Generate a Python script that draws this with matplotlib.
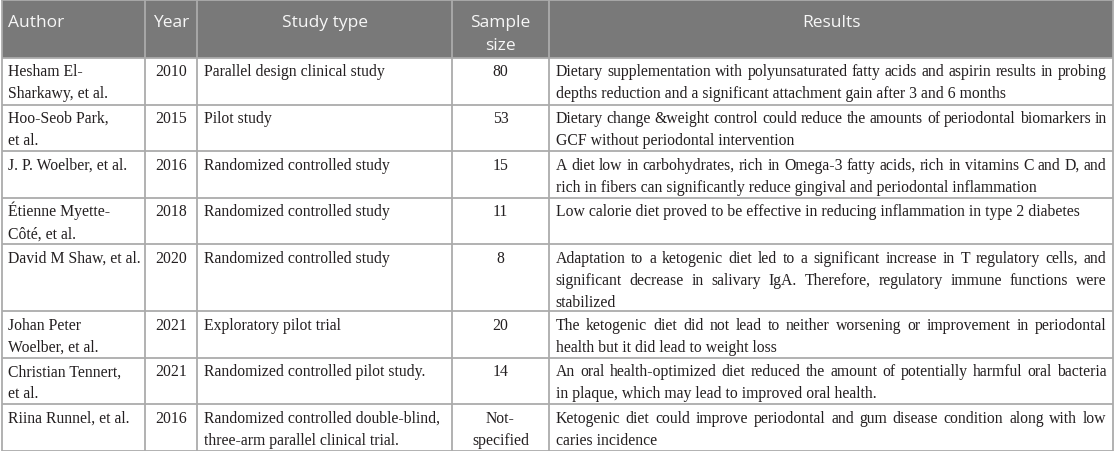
import matplotlib
matplotlib.use("Agg")
import matplotlib.pyplot as plt
from matplotlib.font_manager import FontProperties
from matplotlib.patches import Rectangle

# table content, one list per column (cell lines split as in the source)
headers = ["Author", "Year", "Study type", "Sample\nsize", "Results"]
authors = [
    "Hesham El-\nSharkawy, et al.",
    "Hoo-Seob Park,\net al.",
    "J. P. Woelber, et al.",
    "Étienne Myette-\nCôté, et al.",
    "David M Shaw, et al.",
    "Johan Peter\nWoelber, et al.",
    "Christian Tennert,\net al.",
    "Riina Runnel, et al.",
]
years = ["2010", "2015", "2016", "2018", "2020", "2021", "2021", "2016"]
study_types = [
    "Parallel design clinical study",
    "Pilot study",
    "Randomized controlled study",
    "Randomized controlled study",
    "Randomized controlled study",
    "Exploratory pilot trial",
    "Randomized controlled pilot study.",
    "Randomized controlled double-blind,\nthree-arm parallel clinical trial.",
]
sample_sizes = ["80", "53", "15", "11", "8", "20", "14", "Not-\nspecified"]
results = [
    "Dietary supplementation with polyunsaturated fatty acids and aspirin results in probing\n"
    "depths reduction and a significant attachment gain after 3 and 6 months",
    "Dietary change &weight control could reduce the amounts of periodontal biomarkers in\n"
    "GCF without periodontal intervention",
    "A diet low in carbohydrates, rich in Omega-3 fatty acids, rich in vitamins C and D, and\n"
    "rich in fibers can significantly reduce gingival and periodontal inflammation",
    "Low calorie diet proved to be effective in reducing inflammation in type 2 diabetes",
    "Adaptation to a ketogenic diet led to a significant increase in T regulatory cells, and\n"
    "significant decrease in salivary IgA. Therefore, regulatory immune functions were\n"
    "stabilized",
    "The ketogenic diet did not lead to neither worsening or improvement in periodontal\n"
    "health but it did lead to weight loss",
    "An oral health-optimized diet reduced the amount of potentially harmful oral bacteria\n"
    "in plaque, which may lead to improved oral health.",
    "Ketogenic diet could improve periodontal and gum disease condition along with low\n"
    "caries incidence",
]

W, H = 1116, 452
col_edges = [1.5, 145, 197, 452, 549, 1113]
header_align = ["left", "center", "center", "center", "center"]
body_align = ["left", "center", "left", "center", "justify"]
line_gap = 22          # distance between text lines
header_h = 59
pad = 6.5

header_font = FontProperties(family="Open Sans", size=12.5)
body_font = FontProperties(family="Liberation Serif", size=11.3)
grid_color = "#ababab"

fig = plt.figure(figsize=(W / 100, H / 100), dpi=100)
ax = fig.add_axes([0, 0, 1, 1])
ax.set_xlim(0, W)
ax.set_ylim(H, 0)
ax.axis("off")
renderer = fig.canvas.get_renderer()


def text_width(s, prop):
    w, _, _ = renderer.get_text_width_height_descent(s, prop, ismath=False)
    return w


def put_lines(lines, x0, x1, top, align, prop, color, baseline_off, gap_y):
    for i, line in enumerate(lines):
        y = top + baseline_off + i * gap_y
        if align == "justify" and i < len(lines) - 1 and " " in line:
            words = line.split(" ")
            widths = [text_width(w, prop) for w in words]
            gap = (x1 - x0 - sum(widths)) / (len(words) - 1)
            x = x0
            for w, ww in zip(words, widths):
                ax.text(x, y, w, fontproperties=prop, color=color,
                        ha="left", va="baseline")
                x += ww + gap
            continue
        if align == "center":
            x, ha = (x0 + x1) / 2, "center"
        else:
            x, ha = x0, "left"
        ax.text(x, y, line, fontproperties=prop, color=color, ha=ha, va="baseline")


# header band
ax.add_patch(Rectangle((col_edges[0], 0), col_edges[-1] - col_edges[0], header_h,
                       facecolor="#797979", edgecolor="none"))
for c, head in enumerate(headers):
    put_lines(head.split("\n"), col_edges[c] + pad, col_edges[c + 1] - pad, 0,
              header_align[c], header_font, "#f7f7f7", 27, 23)

# body rows
columns = [authors, years, study_types, sample_sizes, results]
row_tops = [header_h]
for r in range(len(authors)):
    cells = [col[r].split("\n") for col in columns]
    n_lines = max(2, max(len(c) for c in cells))
    top = row_tops[-1]
    for c, lines in enumerate(cells):
        put_lines(lines, col_edges[c] + pad, col_edges[c + 1] - pad, top,
                  body_align[c], body_font, "#231f20", 17.5, line_gap)
    row_tops.append(top + 20.1 * n_lines + 6.4)

# grid lines
lw = 1.3
for y in row_tops:
    ax.plot([col_edges[0], col_edges[-1]], [y, y], color=grid_color, lw=lw,
            solid_capstyle="butt")
ax.plot([col_edges[0], col_edges[-1]], [1, 1], color=grid_color, lw=lw)
for x in col_edges:
    ax.plot([x, x], [0.5, row_tops[-1] + 0.6], color=grid_color, lw=lw,
            solid_capstyle="butt")

fig.savefig("out.png", dpi=100, facecolor="white")
